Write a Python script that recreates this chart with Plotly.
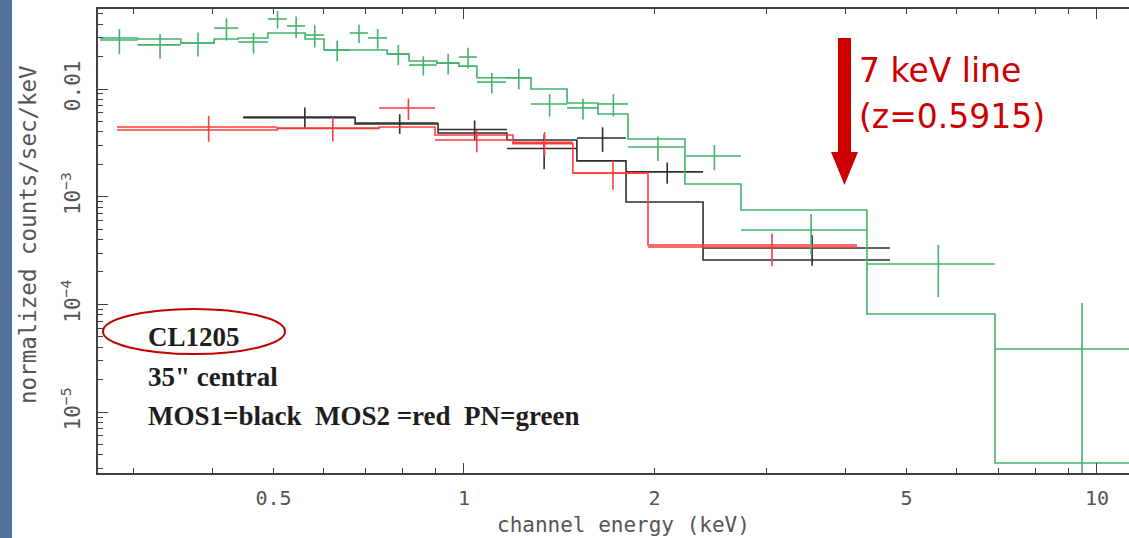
import plotly.graph_objects as go

# ---------------- data ----------------
# PN (green): energy bin edges (keV), data, 1-sigma error, folded model
pn_edges = [0.266, 0.305, 0.357, 0.403, 0.440, 0.490, 0.525, 0.561, 0.601, 0.660,
            0.705, 0.756, 0.819, 0.906, 0.982, 1.048, 1.165, 1.276, 1.455, 1.628,
            1.816, 2.234, 2.739, 4.331, 6.90, 12.04]
pn_data = [0.0285, 0.0257, 0.0267, 0.0368, 0.0273, 0.0447, 0.0385, 0.0317, 0.0230, 0.0331,
           0.0298, 0.0211, 0.0167, 0.0174, 0.0198, 0.0116, 0.0127, 0.00726, 0.00667, 0.00726,
           0.00289, 0.00239, 0.000491, 0.000237, 0.0000385]
pn_err = [0.0075, 0.0066, 0.0067, 0.0086, 0.0060, 0.0083, 0.0087, 0.0074, 0.0050, 0.0063,
          0.0062, 0.0045, 0.0034, 0.0038, 0.0043, 0.0025, 0.0028, 0.0017, 0.00146, 0.0017,
          0.00074, 0.00063, 0.00020, 0.00012, 0.0000645]
pn_model = [0.0298, 0.0291, 0.0267, 0.0291, 0.0298, 0.0331, 0.0331, 0.0291, 0.0230, 0.0230,
            0.0230, 0.0211, 0.0182, 0.0174, 0.0163, 0.0127, 0.0127, 0.0100, 0.00741, 0.00586,
            0.00343, 0.00131, 0.000753, 0.0000814, 0.00000337]

# MOS1 (black)
mos1_edges = [0.448, 0.673, 0.910, 1.169, 1.508, 1.803, 2.386, 4.71]
mos1_data = [0.00550, 0.00483, 0.00420, 0.00280, 0.00351, 0.00170, 0.000334]
mos1_err = [0.00124, 0.00100, 0.00090, 0.00100, 0.00090, 0.00038, 0.000105]
mos1_model = [0.00540, 0.00473, 0.00390, 0.00336, 0.00215, 0.000893, 0.000258]

# MOS2 (red)
mos2_edges = [0.283, 0.507, 0.734, 0.900, 1.195, 1.486, 1.953, 4.178]
mos2_data = [0.00444, 0.00435, 0.00667, 0.00336, 0.00320, 0.00166, 0.000341]
mos2_err = [0.00120, 0.00110, 0.00150, 0.00078, 0.00078, 0.00050, 0.000114]
mos2_model = [0.00416, 0.00430, 0.00444, 0.00374, 0.00310, 0.00166, 0.000356]

x_ticks = [0.5, 1, 2, 5, 10]
x_ticktext = ["0.5", "1", "2", "5", "10"]
x_minor = [0.3, 0.4, 0.6, 0.7, 0.8, 0.9, 2, 3, 4, 5, 6, 7, 8, 9]
x_major_long = [1, 10]
y_ticks = [1e-5, 1e-4, 1e-3, 1e-2]
y_ticktext = ["10<sup>−5</sup>", "10<sup>−4</sup>", "10<sup>−3</sup>", "0.01"]
y_minor = [m * d for d in (1e-6, 1e-5, 1e-4, 1e-3, 1e-2) for m in range(2, 10) if m * d < 0.055]

GREEN = "#42b26c"
RED = "#ff3a3a"
BLACK = "#2e2e2e"

# ---------------- geometry ----------------
W, H = 1129, 538
L, R, T, B = 98, 0, 9, 65
PW, PH = W - L - R, H - T - B


def px(x):
    return (x - L) / PW


def py(y):
    return (H - B - y) / PH


fig = go.Figure()


def add_series(edges, data, err, model, color):
    centers = [(a + b) / 2 for a, b in zip(edges[:-1], edges[1:])]
    halfw = [(b - a) / 2 for a, b in zip(edges[:-1], edges[1:])]
    fig.add_trace(go.Scatter(
        x=edges, y=list(model) + [model[-1]], mode="lines",
        line=dict(color=color, width=1.6, shape="hv"), hoverinfo="skip", showlegend=False))
    fig.add_trace(go.Scatter(
        x=centers, y=data, mode="markers", marker=dict(size=1, color=color, opacity=0),
        error_x=dict(type="data", array=halfw, color=color, thickness=1.6, width=0),
        error_y=dict(type="data", array=err, color=color, thickness=1.6, width=0),
        showlegend=False))


add_series(mos1_edges, mos1_data, mos1_err, mos1_model, BLACK)
add_series(mos2_edges, mos2_data, mos2_err, mos2_model, RED)
add_series(pn_edges, pn_data, pn_err, pn_model, GREEN)

# invisible traces to carry overlay axes (long decade ticks, top-side ticks)
for ax in ("x2", "x3"):
    fig.add_trace(go.Scatter(x=[1], y=[1e-3], xaxis=ax, mode="markers",
                             marker=dict(opacity=0), hoverinfo="skip", showlegend=False))

axis_col = "#404040"
tick_font = dict(family="DejaVu Sans Mono", size=20, color="#555555")
ytick_font = dict(family="DejaVu Sans Mono", size=21, color="#555555")
xrange = [-0.5782, 1.0506]

fig.update_layout(
    width=W, height=H,
    margin=dict(l=L, r=R, t=T, b=B),
    paper_bgcolor="white", plot_bgcolor="white",
    showlegend=False,
    xaxis=dict(type="log", range=xrange, tickmode="array", tickvals=x_ticks, ticktext=x_ticktext,
               ticks="inside", ticklen=5, tickwidth=1.3, tickcolor=axis_col,
               showline=True, linecolor=axis_col, linewidth=1.5, mirror=True,
               showgrid=False, zeroline=False, tickfont=tick_font, ticklabelstandoff=6,
               minor=dict(tickmode="array", tickvals=x_minor, ticks="inside", ticklen=5,
                          tickwidth=1.3, tickcolor=axis_col, showgrid=False)),
    xaxis2=dict(type="log", range=xrange, overlaying="x", anchor="y", side="bottom",
                tickmode="array", tickvals=x_major_long, ticks="inside", ticklen=10,
                tickwidth=1.3, tickcolor=axis_col, showticklabels=False, showline=False,
                mirror="ticks", showgrid=False, zeroline=False),
    xaxis3=dict(type="log", range=xrange, overlaying="x", anchor="y", side="top",
                tickmode="array", tickvals=x_minor + x_ticks, ticks="inside", ticklen=5,
                tickwidth=1.3, tickcolor=axis_col, showticklabels=False, showline=False,
                showgrid=False, zeroline=False),
    yaxis=dict(type="log", range=[-5.5655, -1.2572], tickmode="array", tickvals=y_ticks,
               ticktext=y_ticktext, tickangle=-90, ticks="inside", ticklen=10, tickwidth=1.3,
               tickcolor=axis_col, showline=True, linecolor=axis_col, linewidth=1.5,
               mirror=False, showgrid=False, zeroline=False, tickfont=ytick_font,
               ticklabelstandoff=8,
               minor=dict(tickmode="array", tickvals=y_minor, ticks="inside", ticklen=5,
                          tickwidth=1.3, tickcolor=axis_col, showgrid=False)),
)

# slide background strip on the left
fig.add_shape(type="rect", xref="paper", yref="paper", x0=px(0), x1=px(12), y0=py(H), y1=py(0),
              fillcolor="#50729c", line=dict(width=0), layer="below")

# red arrow
fig.add_shape(type="rect", xref="paper", yref="paper", x0=px(838), x1=px(851), y0=py(153), y1=py(38),
              fillcolor="#cc0000", line=dict(width=0))
fig.add_shape(type="path", xref="paper", yref="paper",
              path=f"M {px(831)},{py(152)} L {px(858)},{py(152)} L {px(844.5)},{py(185)} Z",
              fillcolor="#cc0000", line=dict(width=0))

# ellipse round CL1205
fig.add_shape(type="circle", xref="paper", yref="paper", x0=px(103), x1=px(285), y0=py(354), y1=py(309),
              line=dict(color="#c00000", width=2))

ann = []
red_font = dict(family="DejaVu Sans", size=33, color="#cc0000")
ann.append(dict(text="7 keV line", x=px(857), y=py(70), xanchor="left", yanchor="middle", font=red_font))
ann.append(dict(text="(z=0.5915)", x=px(857), y=py(116), xanchor="left", yanchor="middle", font=red_font))

serif = dict(family="Liberation Serif", size=27, color="#1e1e1e", weight="bold")
ann.append(dict(text="CL1205", x=px(146), y=py(337), xanchor="left", yanchor="middle", font=serif))
ann.append(dict(text="35\" central", x=px(146), y=py(377), xanchor="left", yanchor="middle", font=serif))
ann.append(dict(text="MOS1=black  MOS2 =red  PN=green", x=px(146), y=py(416), xanchor="left",
                yanchor="middle", font=serif))

xtitle_font = dict(family="DejaVu Sans Mono", size=21, color="#555555")
ytitle_font = dict(family="DejaVu Sans Mono", size=22.5, color="#555555")
ann.append(dict(text="channel energy (keV)", x=px(623), y=py(525), xanchor="center", yanchor="middle",
                font=xtitle_font))
ann.append(dict(text="normalized counts/sec/keV", x=px(28), y=py(235), xanchor="center", yanchor="middle",
                textangle=-90, font=ytitle_font))

for a in ann:
    a.update(xref="paper", yref="paper", showarrow=False)
fig.update_layout(annotations=ann)

fig.write_html("out.html")
